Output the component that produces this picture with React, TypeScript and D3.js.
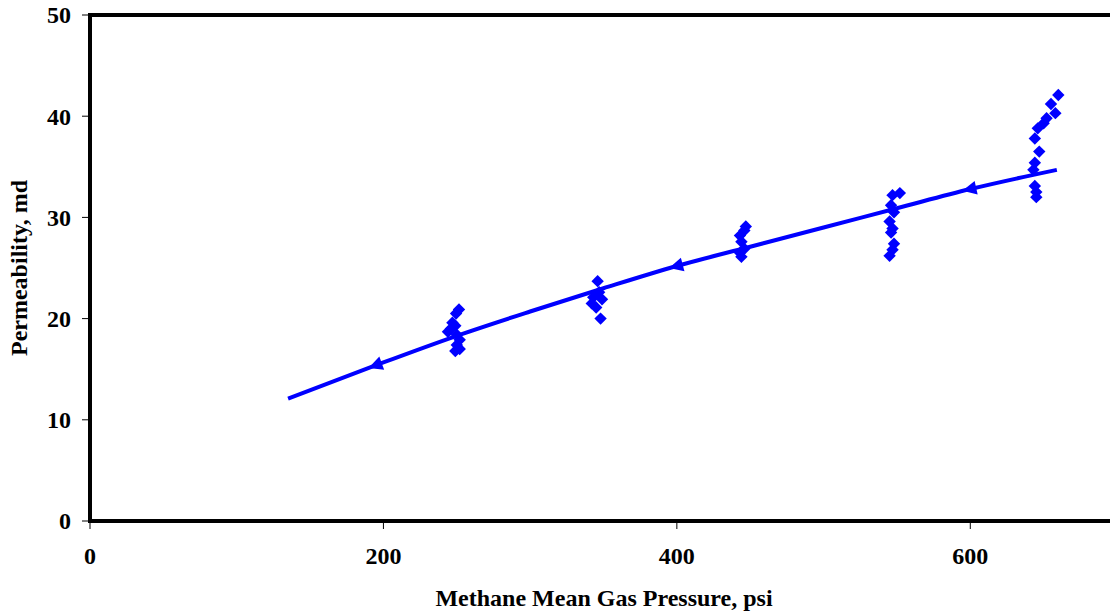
import React from "react";
import * as d3 from "d3";

// Measured permeability points (psi, md), grouped by mean pressure step
const pressures: number[] = [
  251.5, 249.5, 247, 249, 246, 244, 250, 252, 250, 252, 249,
  346, 347, 343, 349, 342, 345, 348,
  447, 446, 443, 444, 446, 443, 444,
  552, 547, 546, 548, 545, 547, 546, 548, 547, 545,
  660, 655, 658, 652, 650, 646, 644, 647, 644, 643, 644, 645, 645,
];
const permeabilities: number[] = [
  20.9, 20.5, 19.6, 19.3, 19.0, 18.7, 18.4, 17.9, 17.4, 17.0, 16.8,
  23.7, 22.6, 22.1, 21.9, 21.5, 21.1, 20.0,
  29.1, 28.7, 28.2, 27.6, 26.9, 26.5, 26.1,
  32.4, 32.2, 31.2, 30.5, 29.6, 28.9, 28.5, 27.4, 26.8, 26.2,
  42.1, 41.2, 40.3, 39.8, 39.3, 38.8, 37.8, 36.5, 35.4, 34.7, 33.1, 32.5, 32.0,
];

// Trend curve read along its length
const trendPressures: number[] = [135, 195, 250, 300, 350, 400, 450, 500, 550, 600, 659];
const trendPerms: number[] = [12.1, 15.4, 18.3, 20.7, 23.0, 25.2, 27.1, 29.0, 30.9, 32.8, 34.7];

// Trend curve markers
const markerPressures: number[] = [195, 400, 600];

const xTicks: number[] = [0, 200, 400, 600];
const yTicks: number[] = [0, 10, 20, 30, 40, 50];

const W = 1110;
const H = 611;
const left = 90;
const right = 1117;
const top = 15;
const bottom = 521;

export default function App() {
  const x = d3.scaleLinear().domain([0, 700]).range([left, right]);
  const y = d3.scaleLinear().domain([0, 50]).range([bottom, top]);

  const trend = trendPressures.map((p, i) => [p, trendPerms[i]] as [number, number]);
  const line = d3
    .line<[number, number]>()
    .x((d) => x(d[0]))
    .y((d) => y(d[1]))
    .curve(d3.curveMonotoneX);

  const interp = (p: number) => {
    const i = d3.bisectLeft(trendPressures, p);
    const i0 = Math.max(1, Math.min(i, trendPressures.length - 1));
    const p0 = trendPressures[i0 - 1];
    const p1 = trendPressures[i0];
    const t = (p - p0) / (p1 - p0);
    return trendPerms[i0 - 1] + t * (trendPerms[i0] - trendPerms[i0 - 1]);
  };

  const font = "'Liberation Serif', 'Times New Roman', serif";
  const fs = 24;
  const ds = 6.2;
  const diamond = `M0,${-ds}L${ds},0L0,${ds}L${-ds},0Z`;

  return (
    <svg
      width={W}
      height={H}
      style={{ position: "absolute", left: 0, top: 0, background: "#fff" }}
      fontFamily={font}
    >
      {/* ticks */}
      {yTicks.map((t) => (
        <line key={"yt" + t} x1={left - 8} x2={left} y1={y(t)} y2={y(t)} stroke="#000" strokeWidth={1} />
      ))}
      {xTicks.map((t) => (
        <line key={"xt" + t} x1={x(t)} x2={x(t)} y1={bottom} y2={bottom + 8} stroke="#000" strokeWidth={1} />
      ))}

      {/* frame */}
      <rect
        x={left}
        y={top}
        width={right - left}
        height={bottom - top}
        fill="none"
        stroke="#000"
        strokeWidth={4}
      />

      {/* tick labels */}
      {yTicks.map((t) => (
        <text
          key={"yl" + t}
          x={left - 19}
          y={y(t)}
          dy="0.35em"
          textAnchor="end"
          fontSize={fs}
          fontWeight="bold"
        >
          {t}
        </text>
      ))}
      {xTicks.map((t) => (
        <text
          key={"xl" + t}
          x={x(t)}
          y={556}
          dy="0.35em"
          textAnchor="middle"
          fontSize={fs}
          fontWeight="bold"
        >
          {t}
        </text>
      ))}

      {/* axis titles */}
      <text x={604} y={598} dy="0.35em" textAnchor="middle" fontSize={fs} fontWeight="bold">
        Methane Mean Gas Pressure, psi
      </text>
      <text
        transform={`translate(19,${(top + bottom) / 2}) rotate(-90)`}
        dy="0.35em"
        textAnchor="middle"
        fontSize={fs}
        fontWeight="bold"
      >
        Permeability, md
      </text>

      {/* measured points */}
      {pressures.map((p, i) => (
        <path
          key={"pt" + i}
          d={diamond}
          transform={`translate(${x(p)},${y(permeabilities[i])})`}
          fill="#0000FF"
        />
      ))}

      {/* trend curve */}
      <path d={line(trend) ?? ""} fill="none" stroke="#0000FF" strokeWidth={4} />
      {markerPressures.map((p, i) => {
        const px = x(p);
        const py = y(interp(p));
        const ang = (Math.atan2(y(interp(p + 5)) - py, x(p + 5) - px) * 180) / Math.PI;
        return (
          <path
            key={"mk" + i}
            d="M-8,0L6,-7L6,7Z"
            transform={`translate(${px},${py}) rotate(${ang})`}
            fill="#0000FF"
          />
        );
      })}
    </svg>
  );
}
